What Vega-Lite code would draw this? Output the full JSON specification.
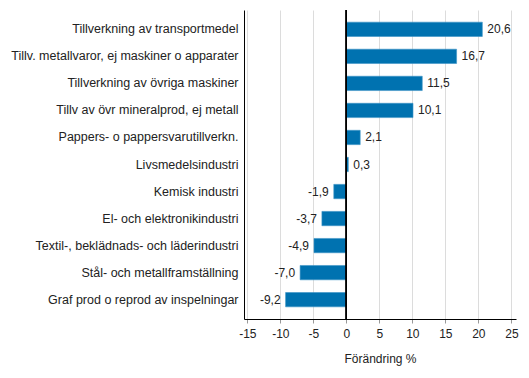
{
  "$schema": "https://vega.github.io/schema/vega-lite/v6.json",
  "autosize": "none",
  "width": 272,
  "height": 309,
  "padding": {"left": 244, "top": 10, "right": 13, "bottom": 59},
  "config": {
    "view": {"stroke": null},
    "font": "Liberation Sans",
    "locale": {"number": {"decimal": ",", "thousands": " ", "grouping": [3], "currency": ["", " €"], "minus": "-"}},
    "axis": {"labelFont": "Liberation Sans", "titleFont": "Liberation Sans", "labelColor": "#222", "titleColor": "#222"}
  },
  "data": {"values": [
    {"kat": "Tillverkning av transportmedel", "v": 20.6},
    {"kat": "Tillv. metallvaror, ej maskiner o apparater", "v": 16.7},
    {"kat": "Tillverkning av övriga maskiner", "v": 11.5},
    {"kat": "Tillv av övr mineralprod, ej metall", "v": 10.1},
    {"kat": "Pappers- o pappersvarutillverkn.", "v": 2.1},
    {"kat": "Livsmedelsindustri", "v": 0.3},
    {"kat": "Kemisk industri", "v": -1.9},
    {"kat": "El- och elektronikindustri", "v": -3.7},
    {"kat": "Textil-, beklädnads- och läderindustri", "v": -4.9},
    {"kat": "Stål- och metallframställning", "v": -7.0},
    {"kat": "Graf prod o reprod av inspelningar", "v": -9.2}
  ]},
  "encoding": {
    "y": {"field": "kat", "type": "nominal", "sort": null,
      "scale": {"paddingInner": 0.47, "paddingOuter": 0.45},
      "axis": {"title": null, "ticks": false, "domainColor": "#000", "labelFontSize": 12.5, "labelPadding": 6, "labelLimit": 300}},
    "x": {"field": "v", "type": "quantitative",
      "scale": {"domain": [-15.5, 25.7], "nice": false, "zero": false},
      "axis": {"title": "Förändring %", "values": [-15, -10, -5, 0, 5, 10, 15, 20, 25], "format": "d",
        "grid": true, "gridColor": "#dcdcdc", "domainColor": "#000", "tickColor": "#999", "tickSize": 4,
        "labelFontSize": 12, "titleFontSize": 12, "titleFontWeight": "normal", "labelPadding": 5, "titlePadding": 14}}
  },
  "layer": [
    {"mark": {"type": "bar", "color": "#0072b0", "stroke": "#3d94c6", "strokeWidth": 0.6}},
    {"mark": {"type": "rule", "color": "#000", "strokeWidth": 1}, "encoding": {"x": {"datum": 0}, "y": null}},
    {"transform": [{"filter": "datum.v >= 0"}],
      "mark": {"type": "text", "align": "left", "dx": 5, "fontSize": 12, "color": "#222"},
      "encoding": {"text": {"field": "v", "format": ".1f"}}},
    {"transform": [{"filter": "datum.v < 0"}],
      "mark": {"type": "text", "align": "right", "dx": -5, "fontSize": 12, "color": "#222"},
      "encoding": {"text": {"field": "v", "format": ".1f"}}}
  ]
}
